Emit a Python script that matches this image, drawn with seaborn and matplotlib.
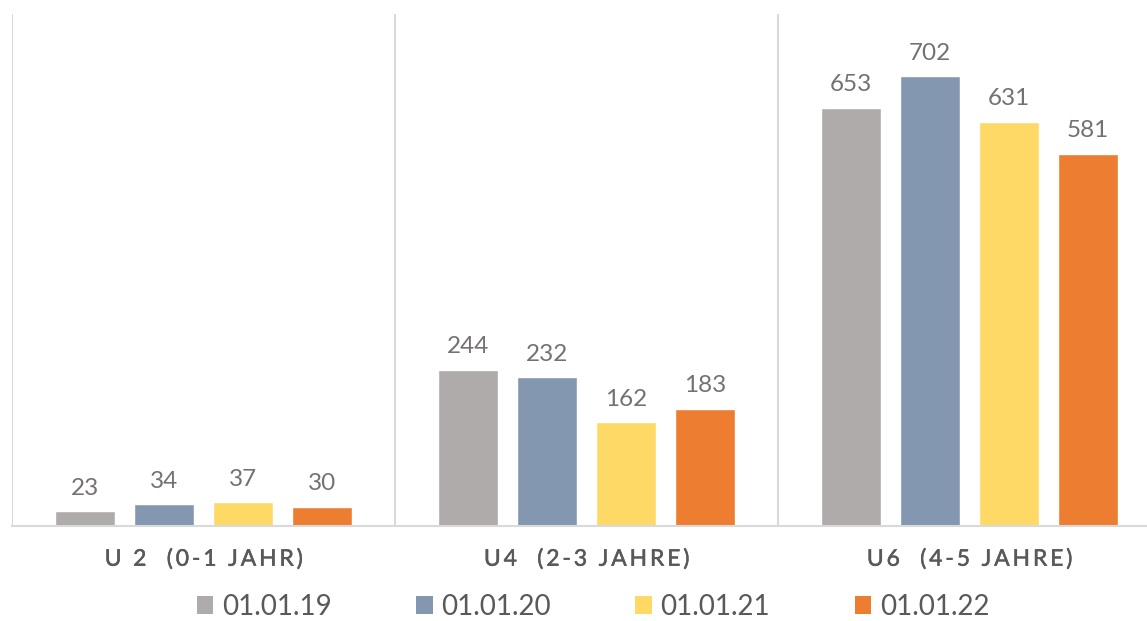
import pandas as pd
import matplotlib.pyplot as plt
import matplotlib.patheffects as pe
import seaborn as sns
from matplotlib.patches import Patch

# data
categories = ["U 2  (0-1 JAHR)", "U4  (2-3 JAHRE)", "U6  (4-5 JAHRE)"]
series = ["01.01.19", "01.01.20", "01.01.21", "01.01.22"]
values_19 = [23, 244, 653]
values_20 = [34, 232, 702]
values_21 = [37, 162, 631]
values_22 = [30, 183, 581]
colors = ["#AFABAB", "#8497B0", "#FFD966", "#ED7D31"]


def spaced(text):
    # mimic the wide letter spacing of the category labels
    return "\u2009".join(text)


def build_frame():
    rows = []
    for name, vals in zip(series, [values_19, values_20, values_21, values_22]):
        for cat, v in zip(categories, vals):
            rows.append({"category": cat, "date": name, "value": v})
    return pd.DataFrame(rows)


def plot(df):
    sns.set_theme(style="white")
    plt.rcParams["font.family"] = ["Lato", "DejaVu Sans"]

    fig = plt.figure(figsize=(11.47, 6.21), dpi=100)
    # plot area runs slightly past the right edge of the picture
    ax = fig.add_axes([12 / 1147, 95 / 621, 1149 / 1147, 512 / 621])

    sns.barplot(data=df, x="category", y="value", hue="date", palette=colors,
                width=0.825, gap=0.25, ax=ax, legend=False, saturation=1)

    for cont in ax.containers:
        ax.bar_label(cont, padding=9, fontsize=17.5, color="#767171")

    ax.set_xlim(-0.5, 2.5)
    ax.set_ylim(0, 799)
    ax.set_yticks([])
    ax.set_xlabel("")
    ax.set_ylabel("")
    ax.set_xticks(range(len(categories)))
    labels = ax.set_xticklabels([spaced(c) for c in categories], fontsize=16.5, color="#595959")
    for lab in labels:
        # slightly heavier strokes, like the shadowed labels of the original
        lab.set_path_effects([pe.withStroke(linewidth=0.35, foreground="#595959")])
    ax.tick_params(axis="x", length=0, pad=16)

    for side in ["top", "right", "left"]:
        ax.spines[side].set_visible(False)
    ax.spines["bottom"].set_color("#D9D9D9")
    ax.spines["bottom"].set_linewidth(1.5)
    for x in [-0.5, 0.5, 1.5, 2.5]:
        ax.axvline(x, color="#D9D9D9", linewidth=1.5, zorder=0)

    handles = [Patch(facecolor=c, edgecolor="none", label=s) for c, s in zip(colors, series)]
    fig.legend(handles=handles, loc="center", bbox_to_anchor=(0.517, 14 / 621), ncol=4,
               frameon=False, fontsize=20, labelcolor="#595959",
               handlelength=0.6, handleheight=0.6, handletextpad=0.3, columnspacing=3.05)

    fig.savefig("out.png", dpi=100)


def main():
    df = build_frame()
    plot(df)


if __name__ == "__main__":
    main()
